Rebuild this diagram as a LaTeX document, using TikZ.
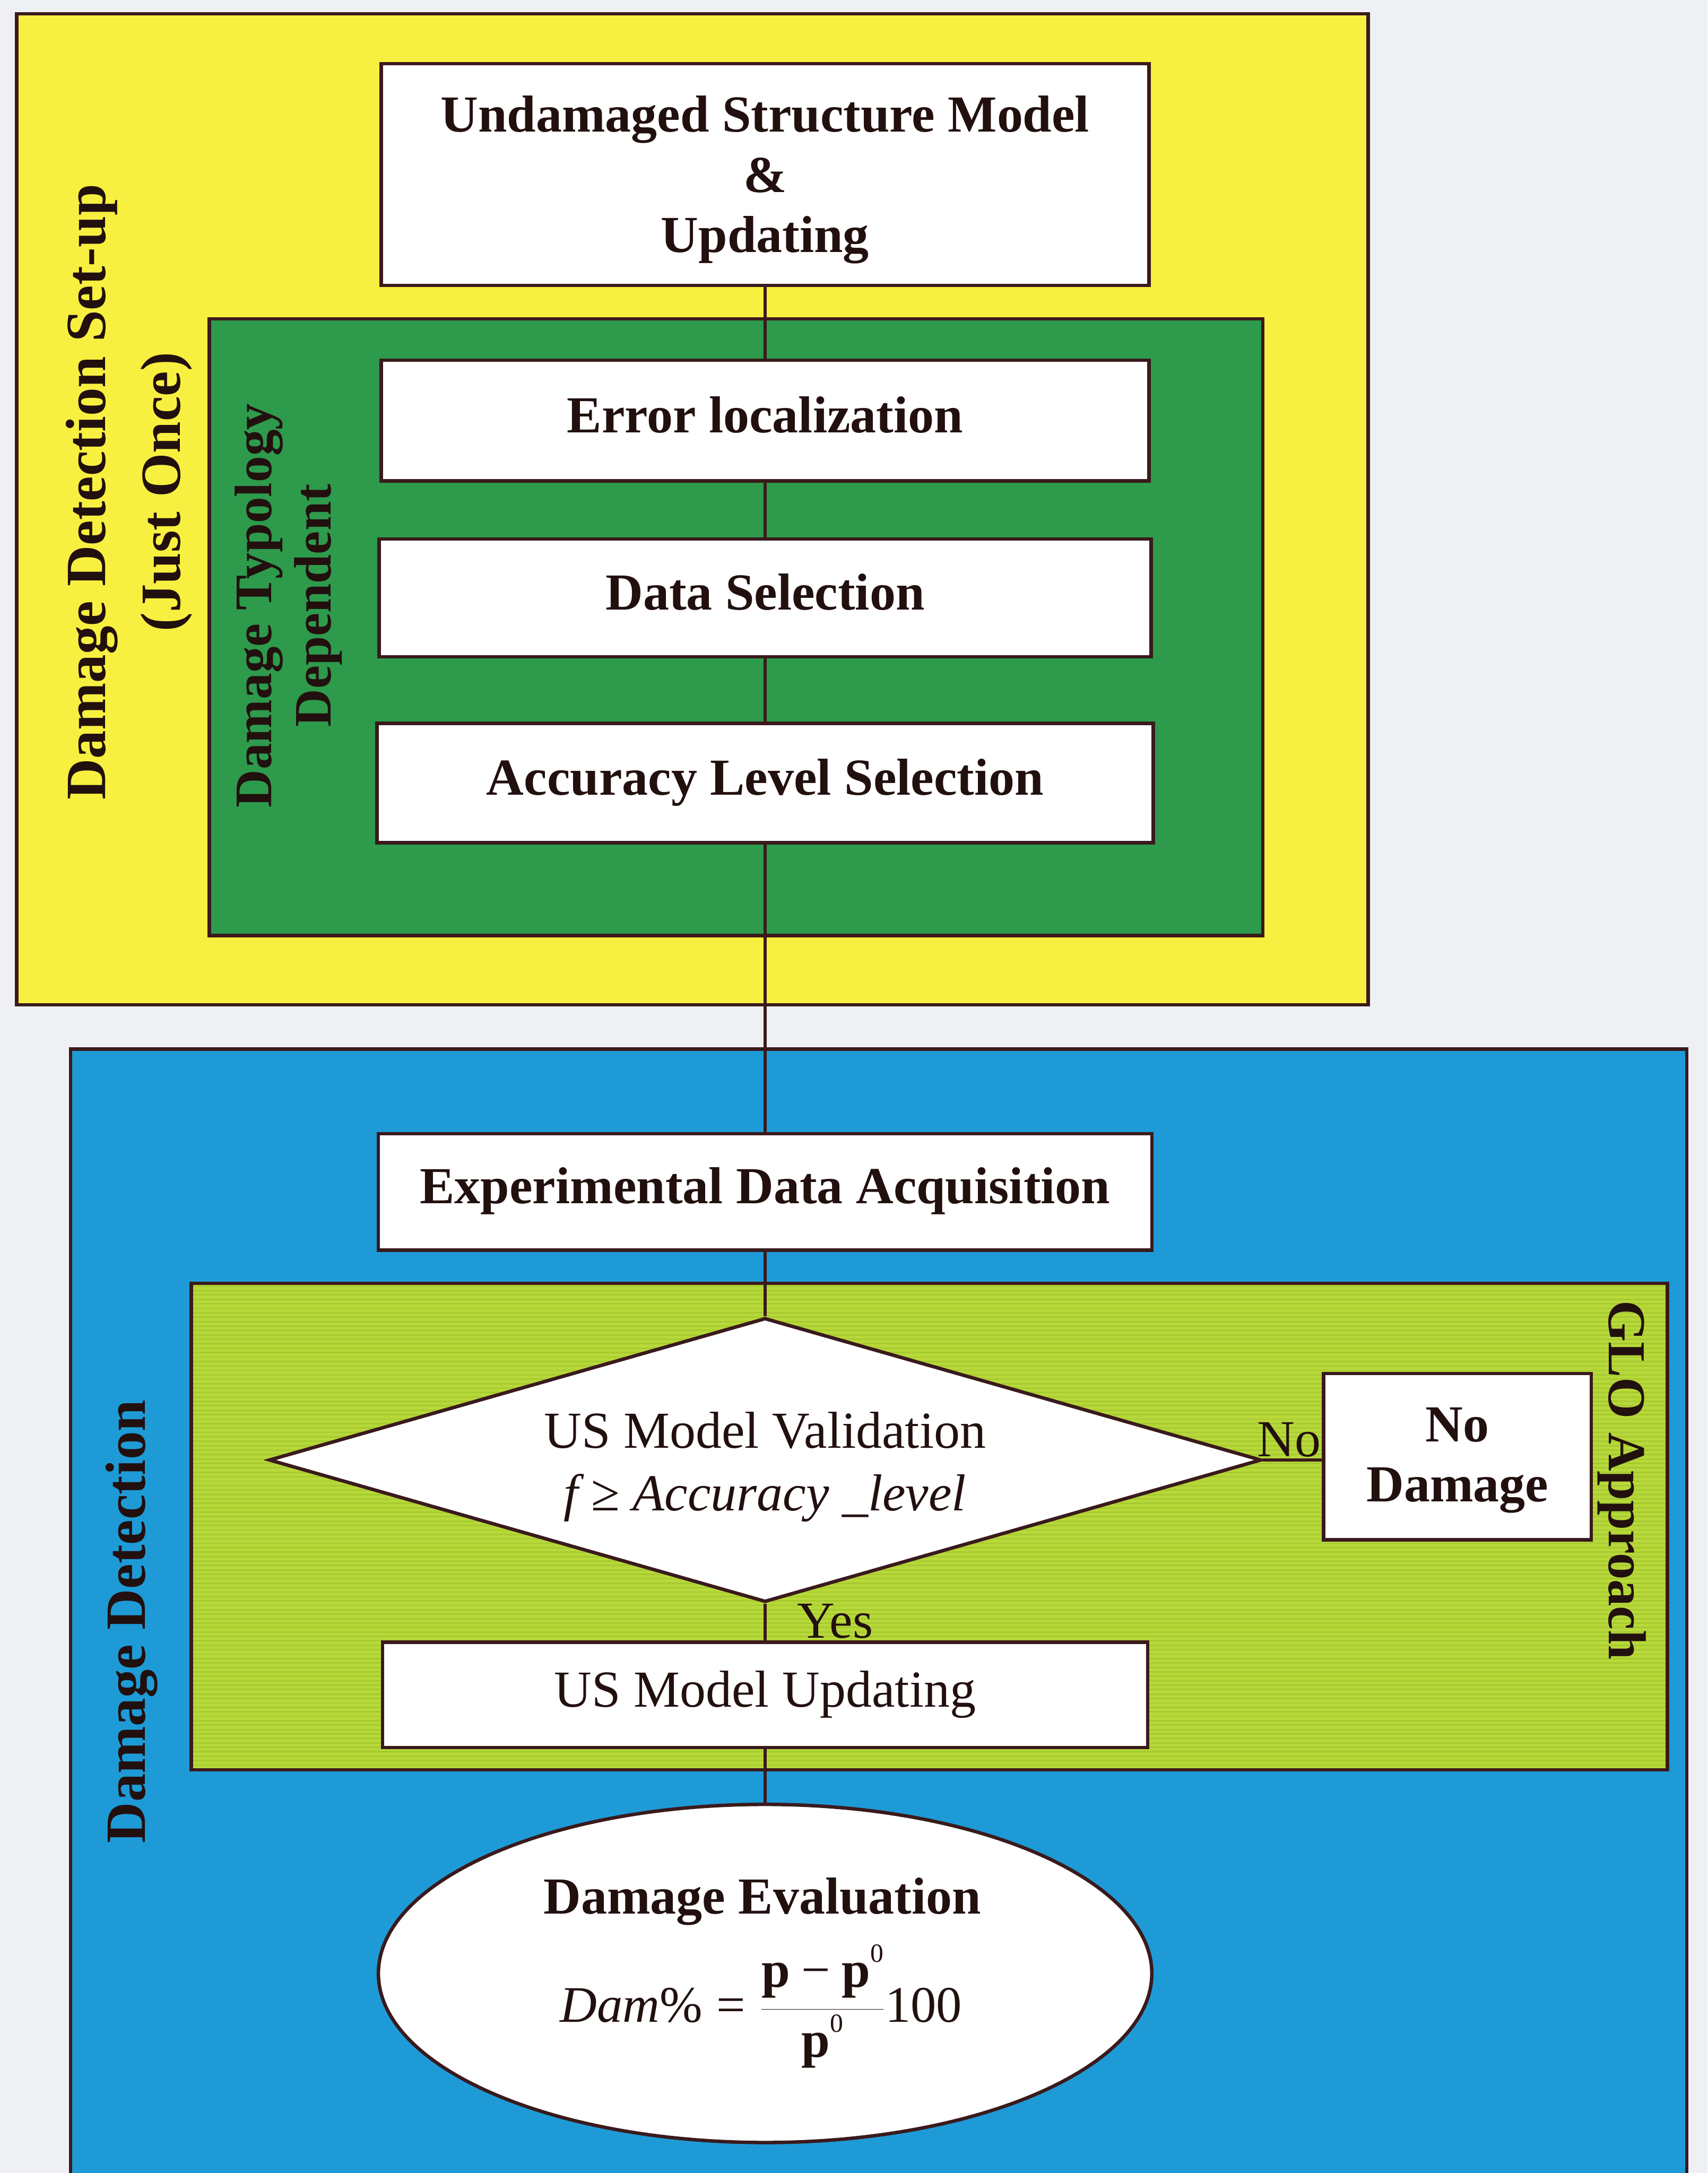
\RequirePackage{fix-cm}
\documentclass[tikz,border=0pt]{standalone}
\usepackage{fontspec}
\setmainfont{Liberation Serif}
\usetikzlibrary{shapes.geometric}
\definecolor{pagebg}{HTML}{EEF0F4}
\definecolor{yel}{HTML}{F8F040}
\definecolor{dgreen}{HTML}{2E9A4C}
\definecolor{lgreen}{HTML}{B8D83A}
\definecolor{lgstripe}{HTML}{A6CB31}
\definecolor{blu}{HTML}{1E9BD7}
\definecolor{edge}{HTML}{3A1A1C}
\definecolor{ink}{HTML}{22100F}
\newcommand\setfs[2]{\fontsize{#1}{#2}\selectfont}
\newcommand\supnum[1]{\raisebox{18pt}{\setfs{19}{19}#1}}
\tikzset{
  region/.style={draw=edge, line width=2.5pt},
  stepbox/.style={draw=edge, line width=2.5pt, fill=white, text=ink, inner sep=0pt,
    font=\bfseries\setfs{37.5}{43.5}, text height=26pt, text depth=9pt},
  plainbox/.style={stepbox, font=\setfs{37.5}{43.5}},
  multibox/.style={draw=edge, line width=2.5pt, fill=white, text=ink, inner sep=0pt,
    align=center, font=\bfseries\setfs{37.5}{43.5}},
  conn/.style={draw=edge, line width=2pt},
  sidelabel/.style={text=ink, inner sep=0pt, align=center, font=\bfseries\setfs{41}{54}},
  lbl/.style={text=ink, inner sep=0pt, font=\setfs{37.5}{43.5}},
}
\begin{document}
\begin{tikzpicture}[x=1pt,y=-1pt]
\useasboundingbox (0,0) rectangle (1232,1568);
\clip (0,0) rectangle (1232,1568);
\fill[pagebg] (0,0) rectangle (1232,1568);

% regions
\filldraw[region, fill=yel] (12,10) rectangle (987,725);
\filldraw[region, fill=dgreen] (151,230) rectangle (911,675);
\filldraw[region, fill=blu] (51,757) rectangle (1217,1590);
\fill[lgreen] (138,926) rectangle (1203,1277);
\begin{scope}
  \clip (138,926) rectangle (1203,1277);
  \foreach \yy in {928,931.2,...,1277} {\draw[lgstripe, line width=1.1pt] (138,\yy) -- (1203,\yy);}
\end{scope}
\draw[region] (138,926) rectangle (1203,1277);

% side labels
\node[sidelabel, rotate=90] (setup) at (93,355) {Damage Detection Set-up\\(Just Once)};
\node[sidelabel, rotate=90, font=\bfseries\setfs{38}{43}] (typo) at (208,437) {Damage Typology\\Dependent};
\node[sidelabel, rotate=90] (detect) at (95,1170) {Damage Detection};
\node[sidelabel, rotate=-90, font=\bfseries\setfs{38.5}{44}] (glo) at (1170,1068) {GLO Approach};

% flow nodes
\node[multibox, minimum width=554pt, minimum height=160pt] (top) at (552,126)
  {\rule{0pt}{33.5pt}Undamaged Structure Model\\\&\\Updating};
\node[stepbox, minimum width=554pt, minimum height=87pt] (err) at (552,303.5) {Error localization};
\node[stepbox, minimum width=557pt, minimum height=85pt] (dat) at (552,431.5) {Data Selection};
\node[stepbox, minimum width=560pt, minimum height=86pt] (acc) at (552,565) {Accuracy Level Selection};
\node[stepbox, minimum width=558pt, minimum height=84pt] (exp) at (552,860) {Experimental Data Acquisition};
\node[diamond, aspect=3.49, draw=edge, line width=2.5pt, fill=white, text=ink, inner sep=0pt,
      minimum width=716pt, minimum height=205pt, align=center, font=\setfs{37.5}{45}] (valid) at (552,1053.5)
  {\rule{0pt}{36pt}US Model Validation\\{\itshape f} ≥ {\itshape Accuracy \_level}};
\node[multibox, minimum width=193pt, minimum height=120pt] (nodmg) at (1051.5,1051)
  {\rule{0pt}{30pt}No\\Damage};
\node[plainbox, minimum width=552pt, minimum height=76pt] (upd) at (552,1223) {US Model Updating};
\node[ellipse, draw=edge, line width=2.5pt, fill=white, inner sep=0pt,
      minimum width=558pt, minimum height=244pt] (eval) at (552,1424) {};
\node[anchor=base, text=ink, inner sep=0pt, font=\bfseries\setfs{37.5}{43.5}] (evaltitle) at (550,1381) {Damage Evaluation};
\node[anchor=base, text=ink, inner sep=0pt, font=\setfs{37}{44}] (formula) at (549,1459)
  {$\textit{Dam}\textrm{\%}\mathrel{\textrm{=}}{\displaystyle\frac{\textbf{p}\mathbin{\textrm{−}}\textbf{p}\supnum{0}}{\textbf{p}\supnum{0}}}\textrm{100}$};

% connectors
\draw[conn] (top.south) -- (err.north);
\draw[conn] (err.south) -- (dat.north);
\draw[conn] (dat.south) -- (acc.north);
\draw[conn] (acc.south) -- (exp.north);
\draw[conn] (exp.south) -- (valid.north);
\draw[conn] (valid.south) -- (upd.north);
\draw[conn] (upd.south) -- (eval.north);
\draw[conn] (valid.east) -- (valid.east -| nodmg.west);

% branch labels
\node[lbl, anchor=base west] (nolab) at (907,1051) {No};
\node[lbl, anchor=base west] (yeslab) at (575,1182) {Yes};
\end{tikzpicture}
\end{document}
